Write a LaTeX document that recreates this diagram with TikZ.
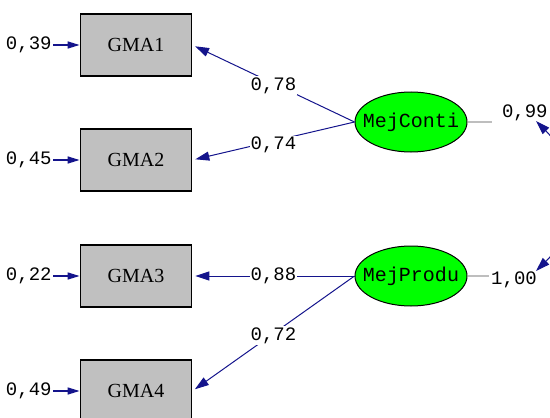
\documentclass[tikz,border=0pt]{standalone}
\usepackage{fontspec}
\setmainfont{Liberation Serif}
\setmonofont{Liberation Mono}
\usetikzlibrary{arrows.meta,shapes.geometric}
\definecolor{obsgray}{RGB}{192,192,192}
\definecolor{latgreen}{RGB}{0,255,0}
\definecolor{lnkblue}{RGB}{20,20,140}
\definecolor{varline}{RGB}{190,190,190}
\tikzset{
  obs/.style={draw=black,line width=0.9pt,fill=obsgray,minimum width=55.5pt,minimum height=31pt,inner sep=0pt,font=\fontsize{10}{12}\selectfont},
  lat/.style={ellipse,draw=black,line width=0.5pt,fill=latgreen,minimum width=56pt,minimum height=30pt,inner xsep=-4.3pt,inner ysep=0pt,font=\ttfamily\fontsize{10}{12}\selectfont},
  val/.style={font=\ttfamily\fontsize{9.5}{11}\selectfont,inner sep=0.5pt},
  lnk/.style={draw=lnkblue,line width=0.5pt,shorten >=1.5pt,-{Triangle[length=7pt,width=4.5pt]}},
  err/.style={draw=lnkblue,line width=0.7pt,-{Triangle[length=6pt,width=3.5pt]}},
}
\begin{document}
\begin{tikzpicture}[x=0.5pt,y=-0.5pt]
\def	\bx	{136};
\def	\ex	{411};
\useasboundingbox (0,0) rectangle (550,417);
\clip (0,0) rectangle (550,417);
% observed
\node[obs] (g1) at (\bx,45) {GMA1};
\node[obs] (g2) at (\bx,160) {GMA2};
\node[obs] (g3) at (\bx,276) {GMA3};
\node[obs] (g4) at (\bx,391) {GMA4};
% latent
\node[lat] (mc) at (\ex,122) {MejConti};
\node[lat] (mp) at (\ex,276) {MejProdu};
% errors
\node[val,anchor=east] (e1) at (53,45) {0,39};
\node[val,anchor=east] (e2) at (53,160) {0,45};
\node[val,anchor=east] (e3) at (53,276) {0,22};
\node[val,anchor=east] (e4) at (53,391) {0,49};
\foreach \i in {1,...,4}
  \draw[err] (e\i) -- (g\i);
% loadings
\draw[lnk] (mc.west) -- node[val,fill=white,pos=0.5,yshift=-1pt] {0,78} (g1.east);
\draw[lnk] (mc.west) -- node[val,fill=white,pos=0.5,yshift=-2pt] {0,74} (g2.east);
\draw[lnk] (mp.west) -- node[val,fill=white,pos=0.5] {0,88} (g3.east);
\draw[lnk] (mp.west) -- node[val,fill=white,pos=0.5,yshift=-1pt] {0,72} (g4.east);
% variances, covariance
\coordinate (vc) at (492,122);
\coordinate (vp) at (489,276);
\draw[varline,line width=0.6pt] (mc.east) -- (vc);
\draw[varline,line width=0.6pt] (mp.east) -- (vp);
\node[val,anchor=east] (c99) at (549,113) {0,99};
\node[val] (c100) at (514,280) {1,00};
\coordinate (ct) at (536,121);
\coordinate (cb) at (536,271);
\draw[lnkblue,line width=0.5pt,{Triangle[length=7pt,width=4.5pt]}-{Triangle[length=7pt,width=4.5pt]}] (ct) .. controls (580,165) and (580,228) .. (cb);
\end{tikzpicture}
\end{document}
